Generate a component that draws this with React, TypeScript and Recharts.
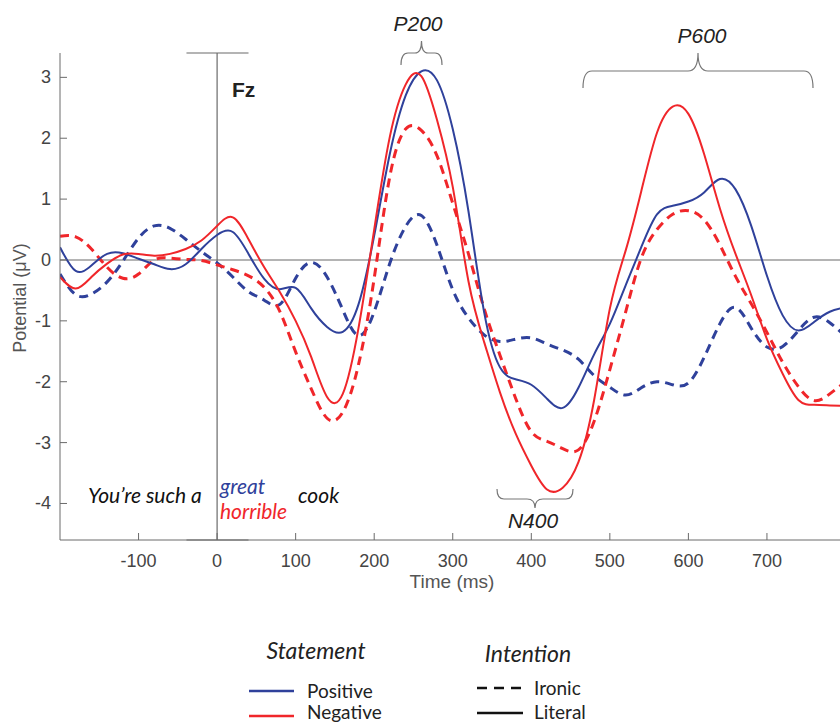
import React from 'react';
import { LineChart, Line, XAxis, YAxis, ReferenceLine } from 'recharts';

// time samples (ms) and the four condition averages (µV)
const times = [
  -200, -180, -160, -140, -120, -100, -80, -60, -40, -20, 0, 20, 40, 60, 80, 100, 120, 140, 160, 180,
  200, 220, 240, 260, 280, 300, 320, 340, 360, 380, 400, 420, 440, 460, 480, 500, 520, 540, 560, 580,
  600, 620, 640, 660, 680, 700, 720, 740, 760, 780, 800
];

const positiveLiteral = [
  0.21, -0.18, -0.09, 0.1, 0.11, 0.02, -0.07, -0.15, -0.07, 0.18, 0.41, 0.46, 0.1, -0.31, -0.48, -0.46, -0.8, -1.1, -1.18, -0.73,
  0.4, 1.75, 2.7, 3.1, 2.95, 2.15, 0.8, -0.86, -1.76, -1.96, -2.05, -2.28, -2.43, -2.1, -1.55, -1.05, -0.42, 0.21, 0.75, 0.89,
  0.96, 1.11, 1.33, 1.16, 0.56, -0.26, -0.91, -1.16, -1.02, -0.85, -0.78
];

const negativeLiteral = [
  -0.28, -0.47, -0.28, -0.06, 0.09, 0.1, 0.07, 0.1, 0.18, 0.32, 0.56, 0.7, 0.34, -0.12, -0.53, -1.0, -1.6, -2.25, -2.2, -1.12,
  0.5, 2.03, 2.88, 3.02, 2.3, 1.2, -0.35, -1.35, -2.17, -2.85, -3.38, -3.77, -3.74, -3.32, -2.3, -0.8, 0.15, 1.13, 2.09, 2.52,
  2.4, 1.74, 0.85, 0.1, -0.58, -1.3, -1.87, -2.3, -2.38, -2.39, -2.4
];

const positiveIronic = [
  -0.23, -0.57, -0.56, -0.36, -0.02, 0.36, 0.56, 0.52, 0.34, 0.14, -0.05, -0.28, -0.52, -0.66, -0.73, -0.3, -0.04, -0.28, -0.82, -1.24,
  -0.85, -0.05, 0.55, 0.73, 0.24, -0.49, -0.95, -1.23, -1.34, -1.3, -1.28, -1.38, -1.48, -1.63, -1.9, -2.09, -2.22, -2.1, -2.0, -2.05,
  -2.02, -1.6, -1.05, -0.78, -1.12, -1.43, -1.42, -1.16, -0.94, -1.03, -1.25
];

const negativeIronic = [
  0.39, 0.38, 0.18, -0.12, -0.3, -0.23, 0.0, 0.03, 0.01, -0.01, -0.08, -0.16, -0.26, -0.45, -0.85, -1.51, -2.12, -2.6, -2.5, -1.72,
  -0.3, 1.38, 2.15, 2.13, 1.71, 0.93, 0.1, -0.8, -1.56, -2.27, -2.82, -2.98, -3.1, -3.12, -2.65, -1.8, -0.86, 0.03, 0.5, 0.75,
  0.81, 0.66, 0.25, -0.27, -0.72, -1.19, -1.68, -2.08, -2.31, -2.2, -2.0
];

const xTicks = [-100, 0, 100, 200, 300, 400, 500, 600, 700];
const yTicks = [-4, -3, -2, -1, 0, 1, 2, 3];

const data = times.map((t, i) => ({
  t,
  posLit: positiveLiteral[i],
  negLit: negativeLiteral[i],
  posIro: positiveIronic[i],
  negIro: negativeIronic[i]
}));

const BLUE = '#2f419b';
const RED = '#f0262a';
const AXIS = '#6b6b6b';
const TICK_FONT = '"Liberation Sans", Arial, Helvetica, sans-serif';
const NOTE_FONT = 'Lato, "Open Sans", sans-serif';

// MATLAB style: ticks point into the plot
const YTick = ({ y, payload }: any) => (
  <g>
    <line x1={60} x2={67} y1={y} y2={y} stroke={AXIS} strokeWidth={1} />
    <text x={51} y={y} dy={6} textAnchor="end" fontSize={18} fontFamily={TICK_FONT} fill="#444">
      {payload.value}
    </text>
  </g>
);

const XTick = ({ x, payload }: any) => (
  <g>
    <line x1={x} x2={x} y1={540} y2={533} stroke={AXIS} strokeWidth={1} />
    <text x={x} y={567} textAnchor="middle" fontSize={18} fontFamily={TICK_FONT} fill="#444">
      {payload.value}
    </text>
  </g>
);

const Overlay = () => (
  <svg width={840} height={724} style={{ position: 'absolute', left: 0, top: 0, pointerEvents: 'none' }}>
    {/* component brackets */}
    <g fill="none" stroke="#777" strokeWidth={1.2}>
      <path d="M401,65 Q401,53 408,53 L415,53 Q421.5,53 421.5,41 Q421.5,53 428,53 L435,53 Q442,53 442,65" />
      <path d="M583,88 Q583,71 592,71 L688,71 Q698,71 698,53 Q698,71 708,71 L804,71 Q813,71 813,88" />
      <path d="M497,489 Q497,499 504,499 L527,499 Q535,499 535,508 Q535,499 543,499 L566,499 Q573,499 573,489" />
    </g>
    <g fontFamily={TICK_FONT} fontStyle="italic" fontSize={21} fill="#222" textAnchor="middle">
      <text x={418} y={31}>P200</text>
      <text x={702} y={43}>P600</text>
      <text x={533} y={528}>N400</text>
    </g>
    <text x={232} y={97} fontFamily={TICK_FONT} fontWeight="bold" fontSize={21} fill="#222">Fz</text>

    {/* stimulus sentence */}
    <g fontFamily={NOTE_FONT} fontStyle="italic" fontSize={21}>
      <text x={88} y={503} fill="#111">You’re such a</text>
      <text x={220} y={494} fill={BLUE}>great</text>
      <text x={220} y={519} fill={RED}>horrible</text>
      <text x={298} y={503} fill="#111">cook</text>
    </g>

    {/* legend */}
    <g fontFamily={NOTE_FONT} fill="#222">
      <text x={316} y={659} fontSize={23} fontStyle="italic" textAnchor="middle">Statement</text>
      <text x={528} y={662} fontSize={23} fontStyle="italic" textAnchor="middle">Intention</text>
      <line x1={249} x2={294} y1={691} y2={691} stroke={BLUE} strokeWidth={2.5} />
      <line x1={249} x2={294} y1={716} y2={716} stroke={RED} strokeWidth={2.5} />
      <text x={307} y={698} fontSize={19}>Positive</text>
      <text x={307} y={719} fontSize={19}>Negative</text>
      <line x1={477} x2={523} y1={688} y2={688} stroke="#111" strokeWidth={2.5} strokeDasharray="10 7" />
      <line x1={477} x2={523} y1={713} y2={713} stroke="#111" strokeWidth={2.5} />
      <text x={534} y={695} fontSize={19}>Ironic</text>
      <text x={534} y={719} fontSize={19}>Literal</text>
    </g>
  </svg>
);

export default function App() {
  return (
    <div style={{ position: 'absolute', left: 0, top: 0, width: 840, height: 724, background: '#fff' }}>
      <LineChart width={840} height={724} data={data} margin={{ top: 53, right: 0, left: 0, bottom: 154 }}>
        <XAxis
          dataKey="t"
          type="number"
          domain={[-200, 793]}
          allowDataOverflow
          ticks={xTicks}
          interval={0}
          height={30}
          stroke={AXIS}
          tickLine={false}
          tick={<XTick />}
        />
        <YAxis
          type="number"
          domain={[-4.6, 3.4]}
          allowDataOverflow
          ticks={yTicks}
          interval={0}
          width={60}
          stroke={AXIS}
          tickLine={false}
          tick={<YTick />}
        />
        <ReferenceLine y={0} stroke={AXIS} strokeWidth={1.2} />
        <ReferenceLine x={0} stroke={AXIS} strokeWidth={1.2} />
        <ReferenceLine segment={[{ x: -39, y: 3.4 }, { x: 40, y: 3.4 }]} stroke={AXIS} strokeWidth={1.2} ifOverflow="visible" />
        <ReferenceLine segment={[{ x: -39, y: -4.6 }, { x: 40, y: -4.6 }]} stroke={AXIS} strokeWidth={1.2} ifOverflow="visible" />

        <Line type="natural" dataKey="posIro" stroke={BLUE} strokeWidth={3} strokeDasharray="9 6" dot={false} isAnimationActive={false} />
        <Line type="natural" dataKey="negIro" stroke={RED} strokeWidth={3} strokeDasharray="9 6" dot={false} isAnimationActive={false} />
        <Line type="natural" dataKey="posLit" stroke={BLUE} strokeWidth={2} dot={false} isAnimationActive={false} />
        <Line type="natural" dataKey="negLit" stroke={RED} strokeWidth={2} dot={false} isAnimationActive={false} />
      </LineChart>
      <div style={{ position: 'absolute', left: 20, top: 298, transform: 'translate(-50%, -50%) rotate(-90deg)', whiteSpace: 'nowrap', fontFamily: TICK_FONT, fontSize: 18, color: '#555' }}>
        Potential (μV)
      </div>
      <div style={{ position: 'absolute', left: 452, top: 582, transform: 'translate(-50%, -50%)', whiteSpace: 'nowrap', fontFamily: TICK_FONT, fontSize: 19, color: '#555' }}>
        Time (ms)
      </div>
      <Overlay />
    </div>
  );
}
